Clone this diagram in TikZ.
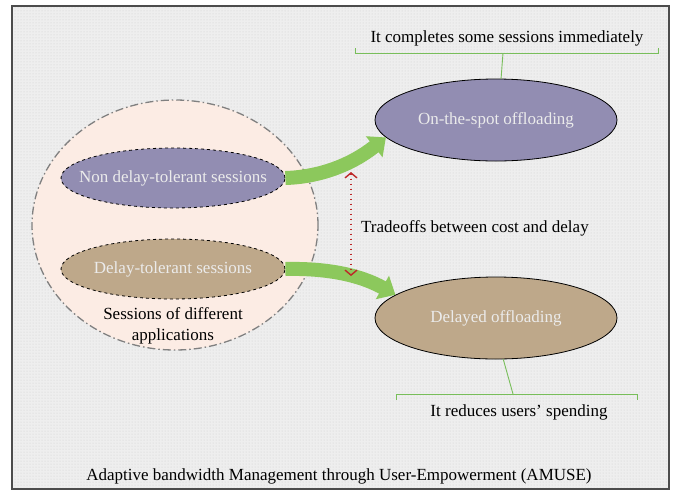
\documentclass[tikz,border=0pt]{standalone}
\usepackage{fontspec}
\setmainfont{Liberation Serif}
\usetikzlibrary{shapes.geometric,arrows.meta,patterns,calc}
\definecolor{panelbg}{RGB}{238,238,238}
\definecolor{dotgray}{RGB}{205,205,205}
\definecolor{peach}{RGB}{252,236,228}
\definecolor{lilac}{RGB}{146,141,178}
\definecolor{tan}{RGB}{190,168,138}
\definecolor{leaf}{RGB}{140,200,92}
\definecolor{brace}{RGB}{120,190,90}
\definecolor{tradeoff}{RGB}{190,40,40}
\begin{document}
\begin{tikzpicture}[x=1pt,y=-1pt,
  txt/.style={font=\fontsize{17}{20}\selectfont, inner sep=0pt},
  session/.style={ellipse, draw=black, dashed, line width=0.8pt,
    minimum width=224pt, minimum height=60pt, inner xsep=-30pt, inner ysep=0pt,
    text=white!92!black, font=\fontsize{17}{20}\selectfont},
  mode/.style={ellipse, draw=black, line width=0.8pt,
    minimum width=242pt, minimum height=82pt, inner xsep=-30pt, inner ysep=0pt,
    text=white!92!black, font=\fontsize{17}{20}\selectfont},
  flow/.style={leaf, line width=14pt, -{Triangle[width=26pt,length=15pt]}},
  bracketline/.style={brace, line width=0.9pt}]
\useasboundingbox (0,0) rectangle (673,491);
% panel
\fill[panelbg] (12,6) rectangle (669,489);
\fill[pattern=dots, pattern color=dotgray] (12,6) rectangle (669,489);
\draw[black!70, line width=1.4pt] (12,6) rectangle (669,489);
% group of sessions
\node[ellipse, fill=peach, draw=black!50, line width=1.3pt,
  dash pattern=on 8pt off 3pt on 1.5pt off 3pt,
  minimum width=286pt, minimum height=250pt] (grp) at (175,225) {};
\node[session, fill=lilac] (nd) at (173,178) {Non delay-tolerant sessions};
\node[session, fill=tan] (dt) at (173,269) {Delay-tolerant sessions};
\node[txt, align=center] (grplbl) at (173,326)
  {Sessions of different\\[1pt] applications};
% offloading modes
\node[mode, fill=lilac] (on) at (496,120) {On-the-spot offloading};
\node[mode, fill=tan] (del) at (496,318) {Delayed offloading};
% flows
\draw[flow] (nd.east) .. controls (318,177) and (350,166) .. (on.189);
\draw[flow] (dt.east) .. controls (330,268) and (362,276) .. (del.167);
% tradeoff
\coordinate (tu) at (351,172);
\coordinate (tl) at (351,276);
\draw[tradeoff, line width=1.4pt, dash pattern=on 1.4pt off 3.6pt,
  {Straight Barb[length=5pt,width=12pt]}-{Straight Barb[length=5pt,width=12pt]}] (tu) -- (tl);
\node[txt, anchor=west] (trade) at (361,228) {Tradeoffs between cost and delay};
% annotations
\node[txt] (note1) at (507,38) {It completes some sessions immediately};
\coordinate (b1l) at (355,53);
\coordinate (b1r) at (658,53);
\coordinate (b1m) at (503,53);
\draw[bracketline] ($(b1l)+(0,-5)$) -- (b1l) -- (b1r) -- ++(0,-5);
\draw[bracketline] (b1m) -- (on.83);
\node[txt] (note2) at (519,412) {It reduces users' spending};
\coordinate (b2l) at (396,394);
\coordinate (b2r) at (637,394);
\coordinate (b2m) at (513,394);
\draw[bracketline] ($(b2l)+(0,6)$) -- (b2l) -- (b2r) -- ++(0,6);
\draw[bracketline] (b2m) -- (del.-80);
% caption
\node[txt] (title) at (339,476) {Adaptive bandwidth Management through User-Empowerment (AMUSE)};
\end{tikzpicture}
\end{document}
